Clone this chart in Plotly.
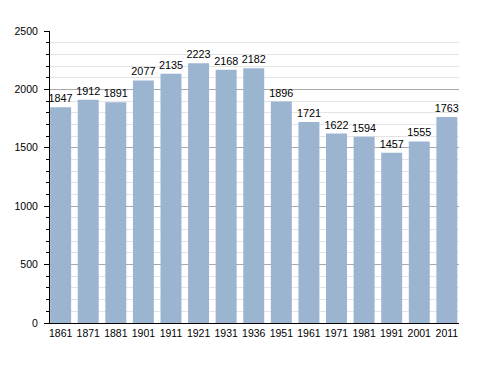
import plotly.graph_objects as go

years = ["1861", "1871", "1881", "1901", "1911", "1921", "1931", "1936",
         "1951", "1961", "1971", "1981", "1991", "2001", "2011"]
population = [1847, 1912, 1891, 2077, 2135, 2223, 2168, 2182,
              1896, 1721, 1622, 1594, 1457, 1555, 1763]
y_ticks = [0, 500, 1000, 1500, 2000, 2500]

FONT = "Liberation Sans, Arial, sans-serif"

fig = go.Figure()
fig.add_trace(go.Bar(
    x=list(range(len(years))),
    y=population,
    text=[str(v) for v in population],
    textposition="outside",
    constraintext="none",
    cliponaxis=False,
    textfont=dict(family=FONT, size=10.8, color="black"),
    marker=dict(color="#9bb4d0", line=dict(width=0)),
))

fig.update_layout(
    width=488, height=373,
    margin=dict(l=50, r=29, t=31, b=50),
    paper_bgcolor="white", plot_bgcolor="white",
    bargap=0.24,
    showlegend=False,
    font=dict(family=FONT, size=10.5, color="black"),
    xaxis=dict(
        tickmode="array",
        tickvals=list(range(len(years))),
        ticktext=years,
        range=[-0.385, 14.44],
        showgrid=False,
        showline=True, linecolor="black", linewidth=1,
        ticks="", zeroline=False,
        tickfont=dict(size=10.5),
    ),
    yaxis=dict(
        range=[0, 2500],
        tickmode="array",
        tickvals=y_ticks,
        showgrid=True, gridcolor="#a8a8a8", gridwidth=1,
        showline=True, linecolor="black", linewidth=1,
        ticks="outside", ticklen=5, tickcolor="black",
        ticklabelstandoff=4,
        zeroline=False,
        tickfont=dict(size=10.5),
        minor=dict(dtick=100, showgrid=True, gridcolor="#e4e4e4",
                   ticks="outside", ticklen=3, tickcolor="black"),
    ),
)

fig.write_html("out.html", config={"displayModeBar": False},
               post_script="document.body.style.margin='0';")
